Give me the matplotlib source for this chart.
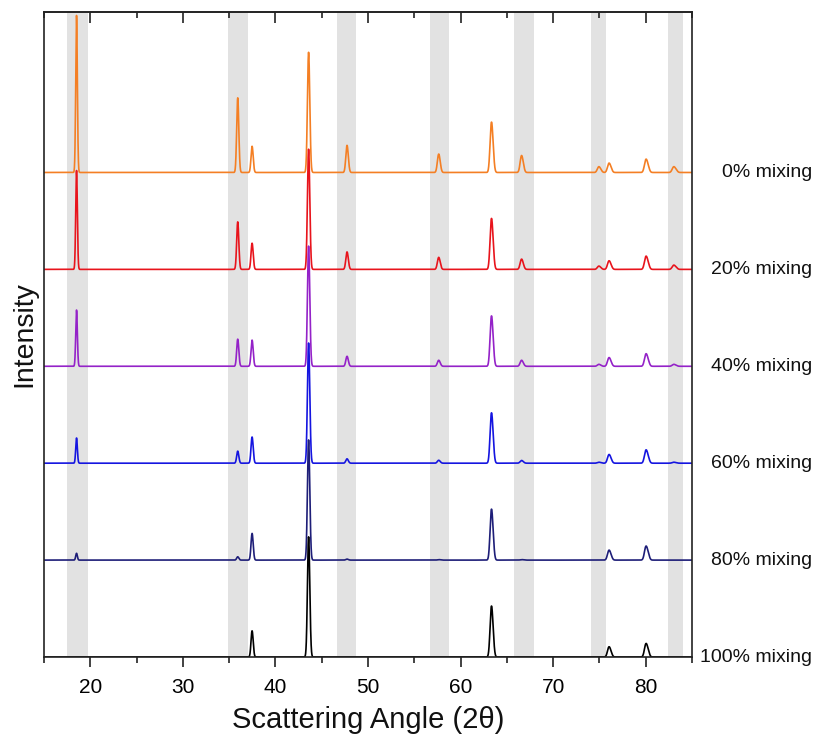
import numpy as np
import matplotlib
matplotlib.use("Agg")
import matplotlib.pyplot as plt
from matplotlib.transforms import blended_transform_factory

plt.rcParams['font.family'] = ['Liberation Sans', 'DejaVu Sans']

# ---- data ----
peak_pos = [18.5, 35.9, 37.45, 43.55, 47.7, 57.6, 63.3, 66.55, 74.9, 76.0, 80.0, 83.0]

labels = ["0% mixing", "20% mixing", "40% mixing", "60% mixing", "80% mixing", "100% mixing"]
offsets = [500, 400, 300, 200, 100, 0]
colors = ["#F47F24", "#E8141C", "#9422C8", "#1515E0", "#1E1E78", "#000000"]

h_0 = [162, 77, 27, 124, 28, 19, 52, 17.5, 6, 9.7, 13.8, 6]
h_20 = [102, 49, 27, 124, 18, 12.4, 52.6, 10.6, 3.4, 8.9, 13.7, 4.4]
h_40 = [58, 28, 27, 124, 10.3, 6.2, 52, 6.2, 2, 9, 13, 2]
h_60 = [26, 12.4, 27, 124, 4.5, 3, 52, 2.8, 1, 9, 13.8, 1]
h_80 = [7, 3.4, 27.5, 124, 1, 0.5, 52.6, 0.5, 0, 10.3, 14.5, 0]
h_100 = [0, 0, 27, 124, 0, 0, 52.6, 0, 0, 10.6, 14, 0]
heights = [h_0, h_20, h_40, h_60, h_80, h_100]

bands = [(17.5, 19.7), (34.9, 37.0), (46.6, 48.7), (56.7, 58.7),
         (65.8, 67.9), (74.1, 75.7), (82.4, 84.0)]

xticks_major = [20, 30, 40, 50, 60, 70, 80]

# ---- figure ----
W, H = 814, 734
fig = plt.figure(figsize=(W / 100, H / 100), dpi=100)
ax = fig.add_axes([44 / W, 1 - 657 / H, (692 - 44) / W, (657 - 12) / H])

x = np.linspace(15, 85, 14001)


def peak_profile(p):
    sig = 0.085 + 0.0011 * (p - 18)
    shift = 2 * np.degrees(np.tan(np.radians(p / 2))) * 0.00248
    prof = np.exp(-0.5 * ((x - p) / sig) ** 2) + 0.5 * np.exp(-0.5 * ((x - p - shift) / sig) ** 2)
    return prof / prof.max()


profiles = [peak_profile(p) for p in peak_pos]

for lo, hi in bands:
    ax.axvspan(lo, hi, color="#e2e2e2", lw=0, zorder=0)

for hs, off, c in zip(heights, offsets, colors):
    y = np.full_like(x, off, dtype=float)
    for h, prof in zip(hs, profiles):
        y = y + h * prof
    ax.plot(x, y, color=c, lw=1.2, zorder=2)

ax.set_xlim(15, 85)
ax.set_ylim(0, 665.6)
ax.set_yticks([])
ax.set_xticks(xticks_major)
ax.set_xticks(np.arange(15, 86, 5), minor=True)
ax.tick_params(axis='x', which='major', direction='out', length=7, width=1.2,
               labelsize=15, pad=8, color="#222222")
ax.tick_params(axis='x', which='minor', direction='out', length=4, width=1.2, color="#222222")
for s in ax.spines.values():
    s.set_linewidth(1.2)
    s.set_color("#222222")

top = ax.secondary_xaxis('top')
top.set_xticks(xticks_major)
top.set_xticks(np.arange(15, 86, 5), minor=True)
top.tick_params(axis='x', which='major', direction='in', length=8, width=1.2,
                labelsize=0, labeltop=False, color="#222222")
top.tick_params(axis='x', which='minor', direction='in', length=4, width=1.2, color="#222222")
top.set_xticklabels([])
top.spines['top'].set_linewidth(1.2)
top.spines['top'].set_color("#222222")

tr = blended_transform_factory(fig.transFigure, ax.transData)
for lab, off in zip(labels, offsets):
    ax.text(812 / W, off, lab, transform=tr, ha='right', va='center', fontsize=14,
            color="#111111", clip_on=False)

fig.text(368 / W, 1 - 728 / H, "Scattering Angle (2θ)", ha='center', va='baseline',
         fontsize=21, color="#111111")
fig.text(24 / W, 1 - 334 / H, "Intensity", ha='center', va='center', rotation=90,
         fontsize=20.5, color="#111111")

fig.savefig("out.png", dpi=100)
